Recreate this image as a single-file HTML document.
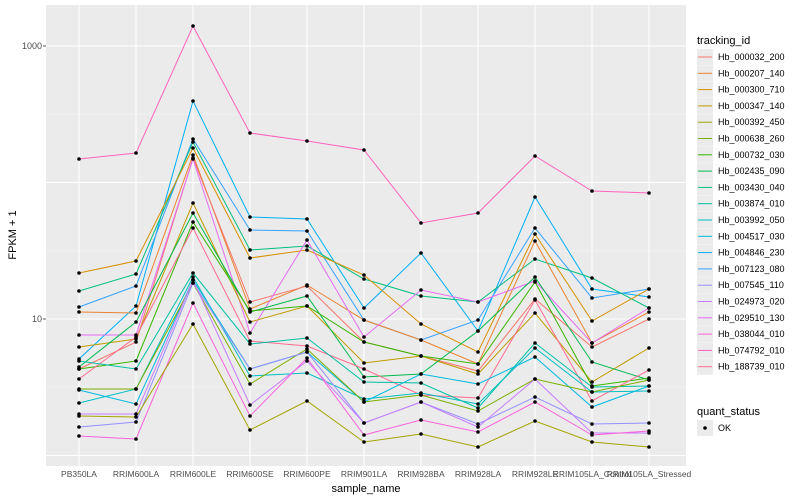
<!DOCTYPE html>
<html><head><meta charset="utf-8"><style>body{margin:0;background:#fff}svg{display:block;font-family:"Liberation Sans",sans-serif}</style></head>
<body>
<svg id="s" width="800" height="500" xmlns="http://www.w3.org/2000/svg">
<rect x="46" y="5" width="640" height="461" fill="#EBEBEB"/>
<g stroke="#F5F5F5" stroke-width="0.6">
<line x1="46" x2="686" y1="114" y2="114"/><line x1="46" x2="686" y1="251" y2="251"/><line x1="46" x2="686" y1="387" y2="387"/>
</g>
<g stroke="#fff" stroke-width="1.1">
<line x1="46" x2="686" y1="46" y2="46"/><line x1="46" x2="686" y1="182.5" y2="182.5"/><line x1="46" x2="686" y1="319" y2="319"/><line x1="46" x2="686" y1="455.5" y2="455.5"/>
<line x1="79" x2="79" y1="5" y2="466"/><line x1="136" x2="136" y1="5" y2="466"/><line x1="193" x2="193" y1="5" y2="466"/><line x1="250" x2="250" y1="5" y2="466"/><line x1="307" x2="307" y1="5" y2="466"/><line x1="364" x2="364" y1="5" y2="466"/><line x1="421" x2="421" y1="5" y2="466"/><line x1="478" x2="478" y1="5" y2="466"/><line x1="535" x2="535" y1="5" y2="466"/><line x1="592" x2="592" y1="5" y2="466"/><line x1="649" x2="649" y1="5" y2="466"/>
</g>
<g id="lines" fill="none" stroke-width="1"></g>
<g id="pts" fill="#000"></g>
<g font-size="9" fill="#4D4D4D" text-anchor="end">
<text x="42" y="49">1000</text><text x="42" y="322">10</text>
</g>
<g stroke="#333" stroke-width="0.8"><line x1="43" x2="46" y1="46" y2="46"/><line x1="43" x2="46" y1="319" y2="319"/></g>
<g font-size="8.5" fill="#4D4D4D" text-anchor="middle">
<text x="79" y="477">PB350LA</text><text x="136" y="477">RRIM600LA</text><text x="193" y="477">RRIM600LE</text><text x="250" y="477">RRIM600SE</text><text x="307" y="477">RRIM600PE</text><text x="364" y="477">RRIM901LA</text><text x="421" y="477">RRIM928BA</text><text x="478" y="477">RRIM928LA</text><text x="535" y="477">RRIM928LE</text><text x="592" y="477">RRIM105LA_Control</text><text x="649" y="477">RRIM105LA_Stressed</text>
</g>
<text x="366" y="492" font-size="11" text-anchor="middle" fill="#000">sample_name</text>
<text transform="translate(16,235) rotate(-90)" font-size="11" text-anchor="middle" fill="#000">FPKM + 1</text>
<text x="697" y="44" font-size="11" fill="#000">tracking_id</text>
<g id="leg" font-size="9" fill="#000"></g>
<text x="697" y="415" font-size="11" fill="#000">quant_status</text>
<rect x="697" y="420" width="16" height="16" fill="#EBEBEB"/><circle cx="705" cy="428" r="1.8" fill="#000"/>
<text x="718" y="431" font-size="9">OK</text>
</svg>
<script>
var X=[79,136,193,250,307,364,421,478,535,592,649];
var names=["Hb_000032_200","Hb_000207_140","Hb_000300_710","Hb_000347_140","Hb_000392_450","Hb_000638_260","Hb_000732_030","Hb_002435_090","Hb_003430_040","Hb_003874_010","Hb_003992_050","Hb_004517_030","Hb_004846_230","Hb_007123_080","Hb_007545_110","Hb_024973_020","Hb_029510_130","Hb_038044_010","Hb_074792_010","Hb_188739_010"];
var cols=["#F8766D","#EA8331","#D89000","#C09B00","#A3A500","#7CAE00","#39B600","#00BB4E","#00BF7D","#00C1A3","#00BFC4","#00BAE0","#00B0F6","#35A2FF","#9590FF","#C77CFF","#E76BF3","#FA62DB","#FF62BC","#FF6C91"];
var L=[
["#FF62BC",[159,153,26,133,141,150,223,213,156,191,193]],
["#00B0F6",[359,306,101,217,219,308,253,331,197,289,297]],
["#35A2FF",[307,286,139,230,231,320,340,320,228,298,289]],
["#00BF7D",[291,274,142,250,246,279,296,302,259,278,308]],
["#D89000",[273,261,148,258,250,275,324,352,234,321,289]],
["#EA8331",[312,313,155,309,285,320,340,364,241,343,312]],
["#F8766D",[369,342,158,302,286,342,356,371,299,347,319]],
["#E76BF3",[335,335,159,333,240,337,290,302,281,343,308]],
["#C09B00",[347,339,203,322,306,363,356,374,313,382,348]],
["#00BB4E",[367,322,213,312,296,377,374,331,277,362,380]],
["#39B600",[369,361,222,311,306,342,356,364,282,386,378]],
["#FF6C91",[379,337,228,341,346,369,395,398,300,401,370]],
["#00C1A3",[361,369,273,344,338,382,383,408,343,387,386]],
["#00BFC4",[403,389,277,376,373,399,393,404,348,392,391]],
["#00BAE0",[390,404,280,369,352,402,374,384,357,407,386]],
["#7CAE00",[389,389,283,384,349,402,395,411,379,392,380]],
["#9590FF",[427,422,283,369,352,423,402,424,397,424,423]],
["#C77CFF",[414,414,280,405,361,423,402,427,379,433,433]],
["#FA62DB",[436,439,303,416,358,435,420,432,402,435,431]],
["#A3A500",[416,417,324,430,401,442,434,447,421,442,447]]];
var ns="http://www.w3.org/2000/svg",g=document.getElementById("lines"),p=document.getElementById("pts"),lg=document.getElementById("leg");
L.forEach(function(l){var e=document.createElementNS(ns,"polyline");e.setAttribute("points",l[1].map(function(y,i){return X[i]+","+y}).join(" "));e.setAttribute("stroke",l[0]);g.appendChild(e);
l[1].forEach(function(y,i){var c=document.createElementNS(ns,"circle");c.setAttribute("cx",X[i]);c.setAttribute("cy",y);c.setAttribute("r",1.8);p.appendChild(c);});});
names.forEach(function(n,i){var y=57+i*16.3;var r=document.createElementNS(ns,"rect");r.setAttribute("x",697);r.setAttribute("y",y-8);r.setAttribute("width",16);r.setAttribute("height",16);r.setAttribute("fill","#EBEBEB");lg.appendChild(r);
var ln=document.createElementNS(ns,"line");ln.setAttribute("x1",698);ln.setAttribute("x2",712);ln.setAttribute("y1",y);ln.setAttribute("y2",y);ln.setAttribute("stroke",cols[i]);lg.appendChild(ln);
var t=document.createElementNS(ns,"text");t.setAttribute("x",718);t.setAttribute("y",y+3);t.textContent=n;lg.appendChild(t);});
</script>
</body></html>
